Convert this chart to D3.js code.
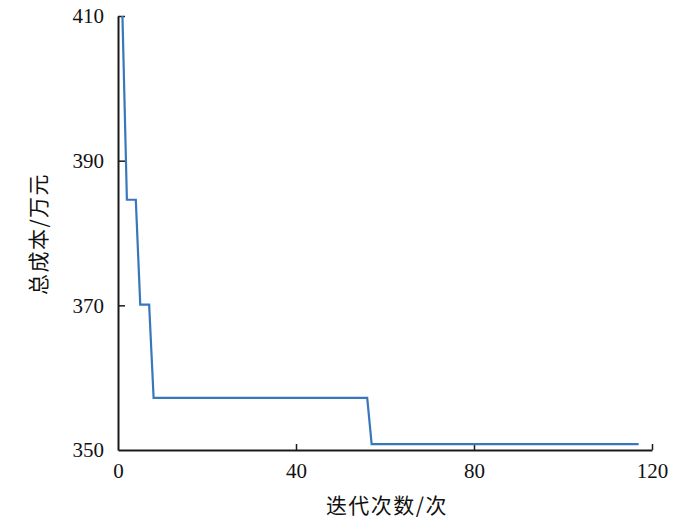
<!DOCTYPE html>
<html><head><meta charset="utf-8">
<script src="https://cdn.jsdelivr.net/npm/d3@7"></script>
<style>body{margin:0;background:#fff;} svg{display:block;} .tick text{font-family:"Liberation Serif","Times New Roman",serif !important;}</style>
</head><body>
<svg id="chart" width="700" height="518"></svg>
<script>
const iterations = [1, 2, 4, 5, 7, 8, 56, 57, 117];
const totalCost = [410, 384.6, 384.6, 370.1, 370.1, 357.2, 357.2, 350.8, 350.8];
const xTicks = [0, 40, 80, 120];
const yTicks = [350, 370, 390, 410];
const xTitle = "迭代次数/次";
const yTitle = "总成本/万元";

const svg = d3.select("#chart");
const x = d3.scaleLinear().domain([0, 120]).range([118, 652]);
const y = d3.scaleLinear().domain([350, 410]).range([450, 16]);

const axisColor = "#1a1a1a";

const xAxis = d3.axisBottom(x).tickValues(xTicks).tickSizeInner(-6).tickSizeOuter(0).tickPadding(13).tickFormat(d3.format("d"));
const gx = svg.append("g").attr("transform", "translate(0,450)").call(xAxis);
const yAxis = d3.axisLeft(y).tickValues(yTicks).tickSizeInner(-7).tickSizeOuter(0).tickPadding(14).tickFormat(d3.format("d"));
const gy = svg.append("g").attr("transform", "translate(118,0)").call(yAxis);

[gx, gy].forEach(g => {
  g.attr("font-size", 21);
  g.select(".domain").attr("stroke", axisColor).attr("stroke-width", 2);
  g.selectAll(".tick line").attr("stroke", axisColor).attr("stroke-width", 1.5);
  g.selectAll(".tick text").attr("fill", "#111").attr("font-size", 21);
});
gx.selectAll(".tick").filter(d => d === 0).select("line").remove();
gy.selectAll(".tick").filter(d => d === 350).select("line").remove();

const line = d3.line().x((d, i) => x(iterations[i])).y(d => y(d));
svg.append("path").datum(totalCost)
  .attr("d", line).attr("fill", "none")
  .attr("stroke", "#3877bb").attr("stroke-width", 2.2)
  .attr("stroke-linejoin", "miter");

svg.append("text").attr("x", 387).attr("y", 513).attr("text-anchor", "middle")
  .attr("font-family", "Noto Sans CJK SC, sans-serif").attr("font-size", 21)
  .attr("letter-spacing", 1.5).attr("fill", "#111")
  .text(xTitle);
svg.append("text").attr("transform", "translate(46,234) rotate(-90)").attr("text-anchor", "middle")
  .attr("font-family", "Noto Sans CJK SC, sans-serif").attr("font-size", 21)
  .attr("letter-spacing", 1.5).attr("fill", "#111")
  .text(yTitle);
</script>
</body></html>
